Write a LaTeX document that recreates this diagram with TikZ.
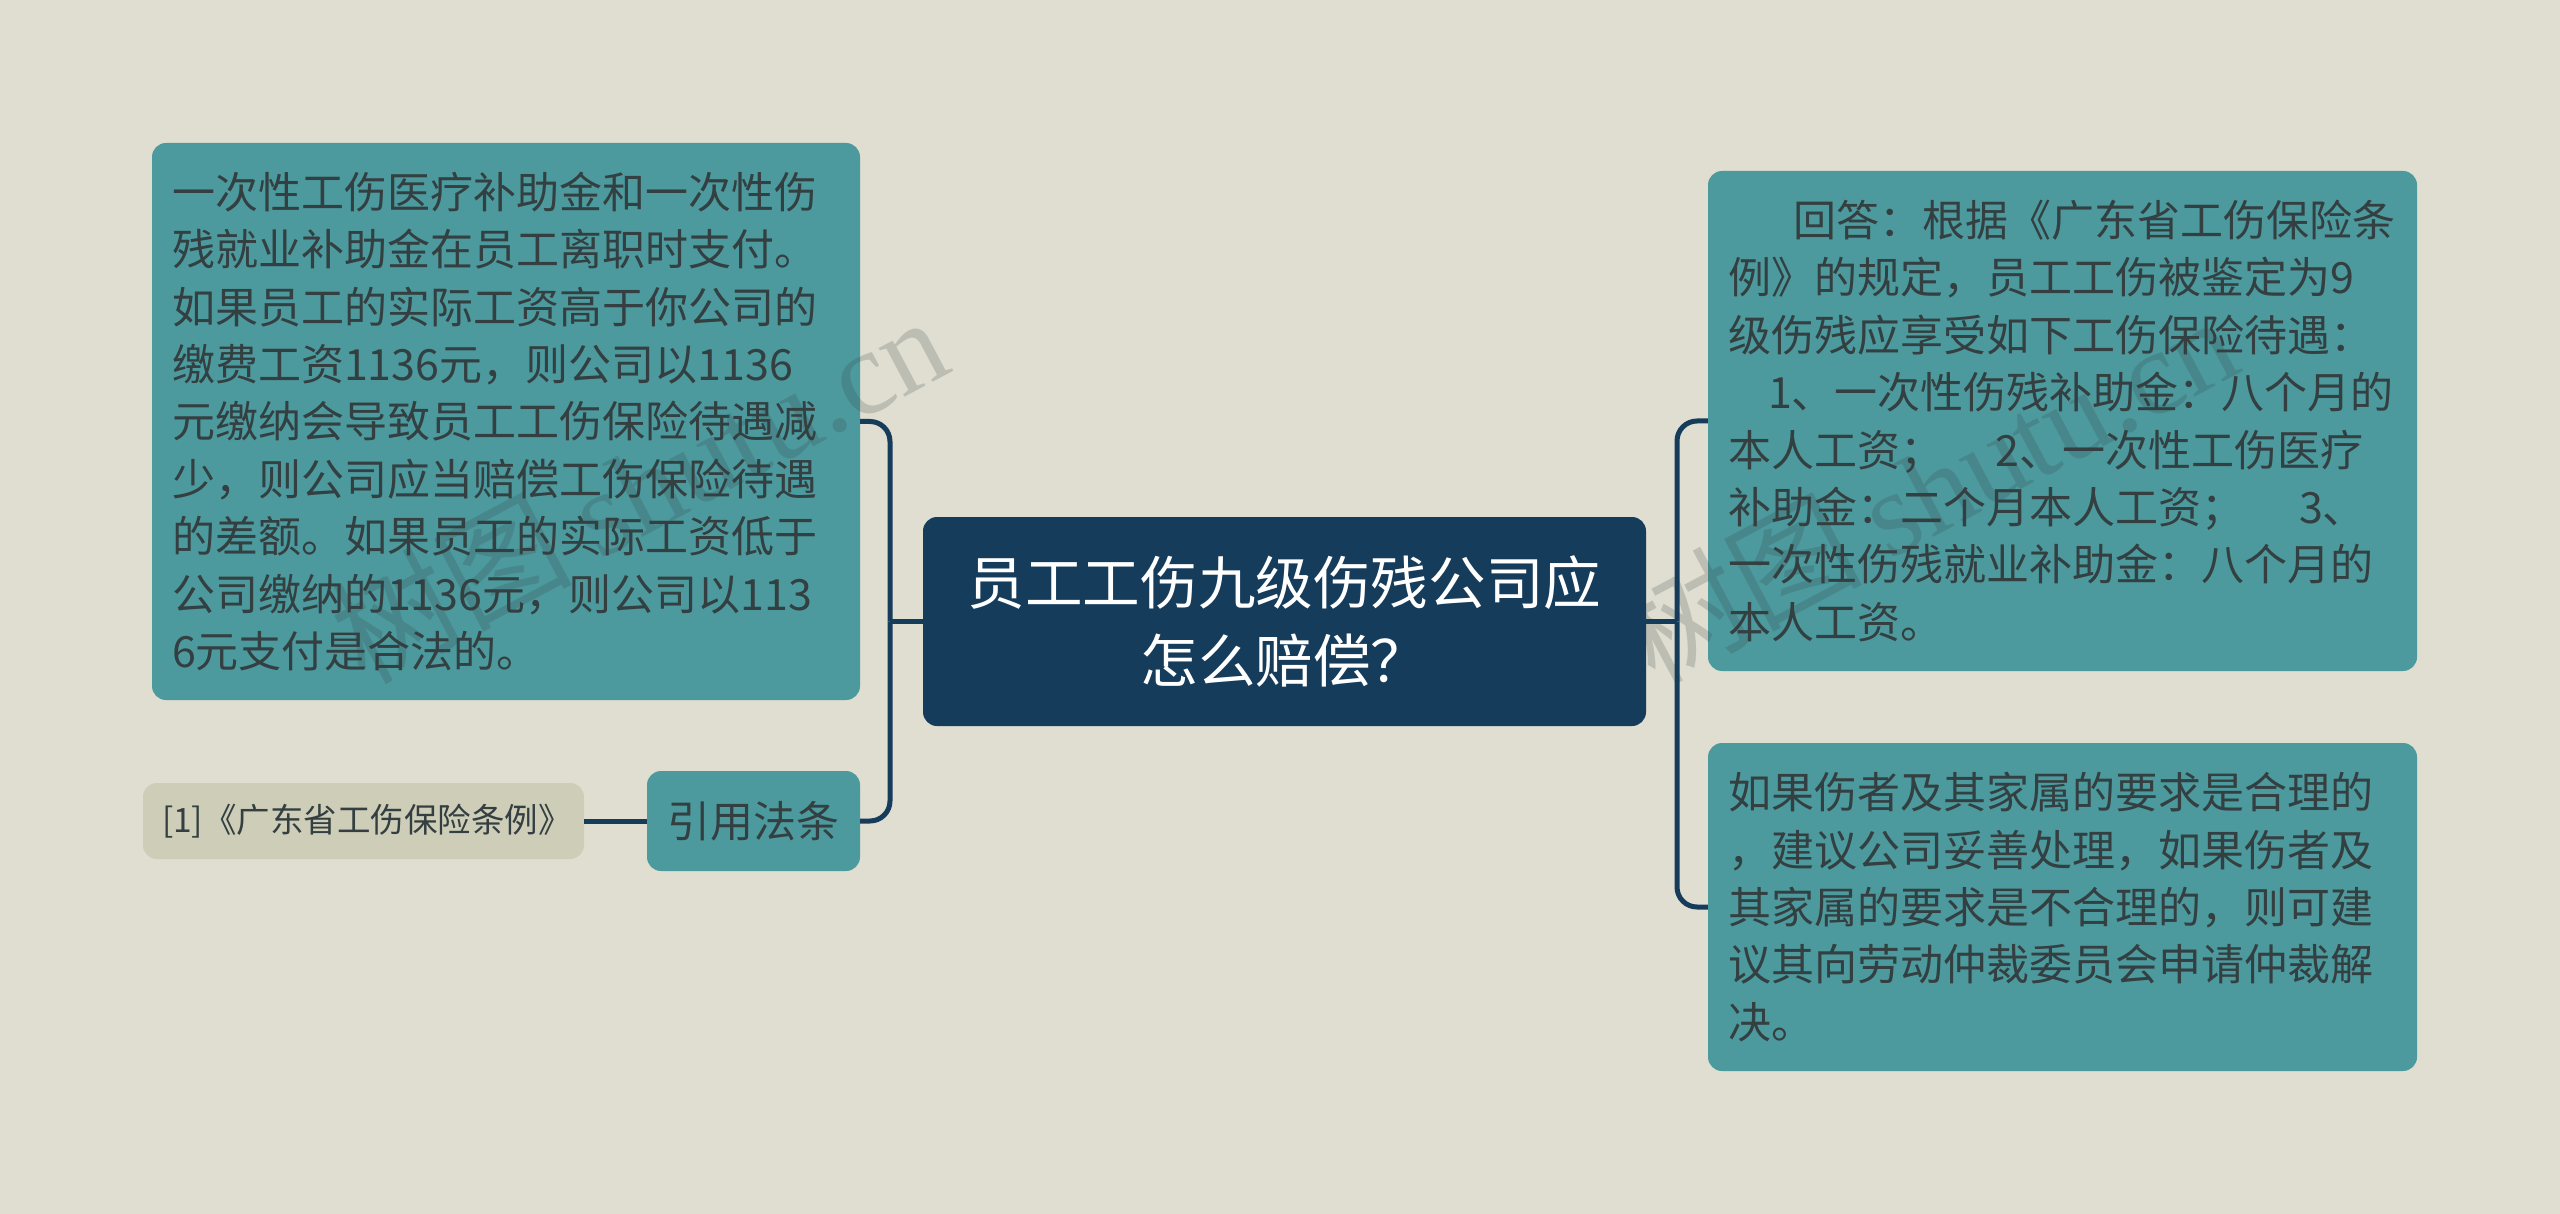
\documentclass[tikz,border=0pt]{standalone}
\usepackage{fontspec}
\setmainfont{Noto Sans CJK SC}
\newfontfamily\markfont{Liberation Serif}
\usetikzlibrary{positioning}
\definecolor{bgcol}{HTML}{DFDED0}
\definecolor{tealcol}{HTML}{4C9A9E}
\definecolor{navycol}{HTML}{163C5C}
\definecolor{lawcol}{HTML}{CDCDB8}
\definecolor{inkcol}{HTML}{333F40}
\begin{document}
\begin{tikzpicture}[x=1pt,y=1pt,
	leaf/.style={rectangle,rounded corners=14pt,fill=tealcol,text=inkcol,inner xsep=20pt,inner ysep=0pt,align=left,font=\fontsize{43}{57.4}\selectfont},
	topic/.style={rectangle,rounded corners=14pt,fill=navycol,text=white,inner xsep=0pt,inner ysep=0pt,align=center,font=\fontsize{57.6}{78}\selectfont},
	lawbox/.style={rectangle,rounded corners=14pt,fill=lawcol,text=inkcol,inner xsep=19pt,inner ysep=0pt,align=left,font=\fontsize{33.5}{40}\selectfont},
	link/.style={draw=navycol,line width=5pt,rounded corners=20pt},
	wmark/.style={inkcol,text opacity=.2,rotate=28,anchor=base,inner sep=0pt,font=\fontsize{120}{125}\selectfont}]
\fill[bgcol,use as bounding box] (0,0) rectangle (2560,-1214);

\node[leaf,text width=668pt,minimum height=557pt] at (506,-421.5) (left1) {一次性工伤医疗补助金和一次性伤\\残就业补助金在员工离职时支付。\\如果员工的实际工资高于你公司的\\缴费工资1136元，则公司以1136\\元缴纳会导致员工工伤保险待遇减\\少，则公司应当赔偿工伤保险待遇\\的差额。如果员工的实际工资低于\\公司缴纳的1136元，则公司以113\\6元支付是合法的。};
\node[leaf,text width=173pt,minimum height=100pt] at (753.5,-821) (cite) {引用法条};
\node[lawbox,text width=403pt,minimum height=76pt] at (363.5,-821) (law) {[1]《广东省工伤保险条例》};

\node[leaf,text width=669pt,minimum height=500pt] at (2062.5,-421) (right1) {\hspace*{65pt}回答：根据《广东省工伤保险条\\例》的规定，员工工伤被鉴定为9\\级伤残应享受如下工伤保险待遇：\\\hspace*{40pt}1、一次性伤残补助金：八个月的\\本人工资；\hspace*{53pt}2、一次性工伤医疗\\补助金：二个月本人工资；\hspace*{55pt}3、\\一次性伤残就业补助金：八个月的\\本人工资。};
\node[leaf,text width=669pt,minimum height=328pt] at (2062.5,-907) (right2) {如果伤者及其家属的要求是合理的\\，建议公司妥善处理，如果伤者及\\其家属的要求是不合理的，则可建\\议其向劳动仲裁委员会申请仲裁解\\决。};

\node[wmark] at (660,-528) (mark1) {树图 {\markfont shutu.cn}};
\node[wmark] at (1950,-528) (mark2) {树图 {\markfont shutu.cn}};

\node[topic,minimum width=723pt,minimum height=209pt] at (1284.5,-621.5) (root) {员工工伤九级伤残公司应\\怎么赔偿？};

\coordinate (lhub) at (890,-621.5);
\coordinate (rhub) at (1677,-621.5);

\draw[link] (root.west) -- (lhub);
\draw[link] (root.east) -- (rhub);
\draw[link] (lhub) |- (left1.east);
\draw[link] (lhub) |- (cite.east);
\draw[link] (rhub) |- (right1.west);
\draw[link] (rhub) |- (right2.west);
\draw[link] (law.east) -- (cite.west);
\end{tikzpicture}
\end{document}
